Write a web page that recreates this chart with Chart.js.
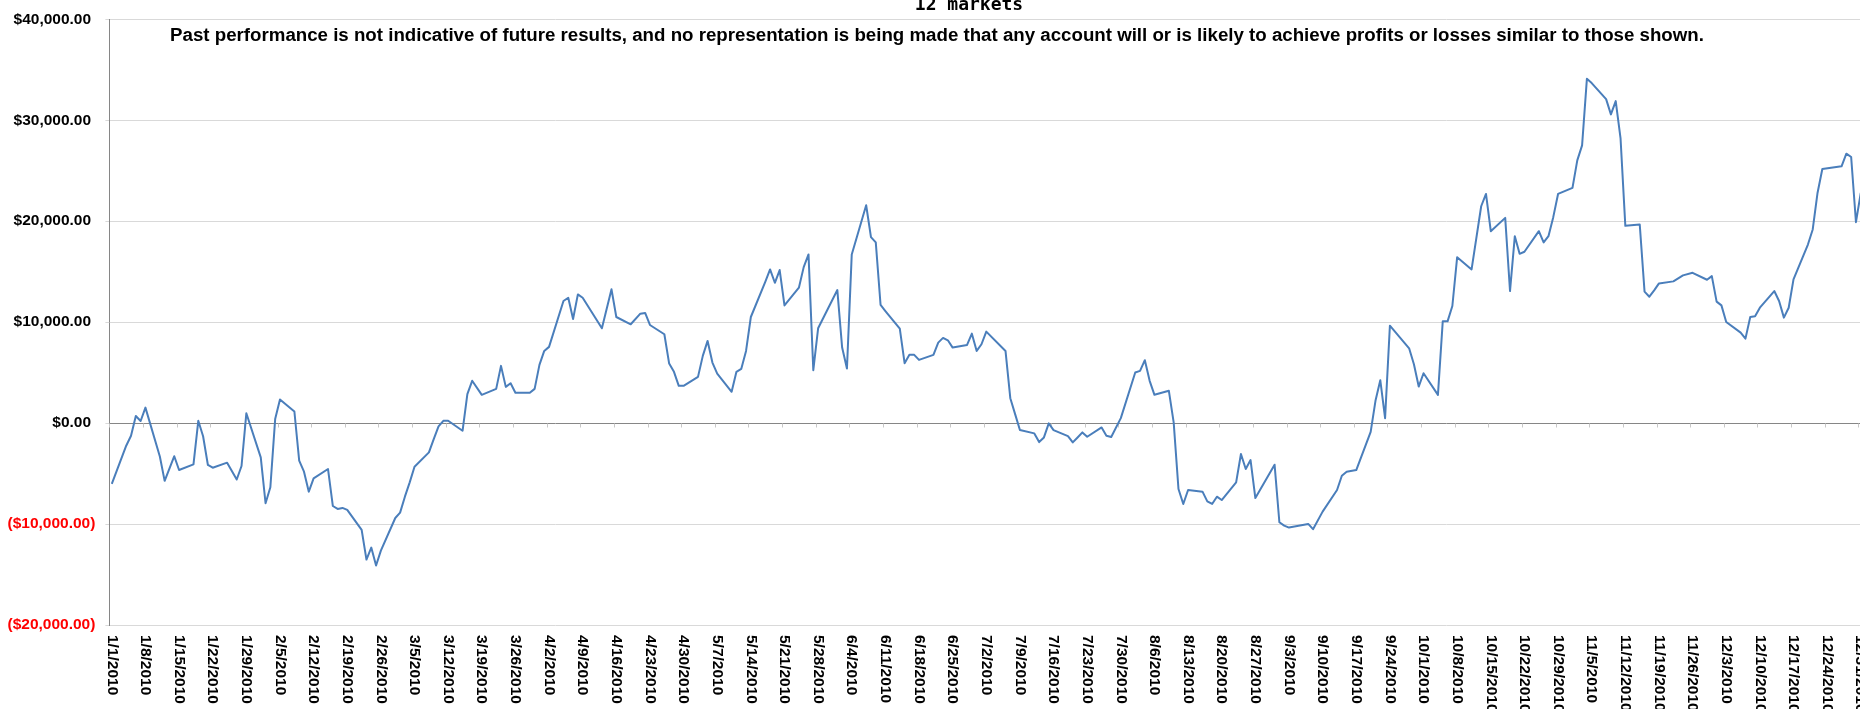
<!DOCTYPE html>
<html>
<head>
<meta charset="utf-8">
<title>12 markets</title>
<script src="https://cdn.jsdelivr.net/npm/chart.js@4.4.1/dist/chart.umd.min.js"></script>
<style>
    html, body { margin: 0; padding: 0; background: #fff; overflow: hidden; }
    #wrap { position: relative; width: 1892px; height: 709px; }
</style>
</head>
<body>
<div id="wrap"><canvas id="equityChart"></canvas></div>
<script>
const chartTitle = "12 markets";
const disclaimer = "Past performance is not indicative of future results, and no representation is being made that any account will or is likely to achieve profits or losses similar to those shown.";

// one label per week, Excel puts them under the weekly tick marks
const weekLabels = [
    "1/1/2010", "1/8/2010", "1/15/2010", "1/22/2010", "1/29/2010",
    "2/5/2010", "2/12/2010", "2/19/2010", "2/26/2010",
    "3/5/2010", "3/12/2010", "3/19/2010", "3/26/2010",
    "4/2/2010", "4/9/2010", "4/16/2010", "4/23/2010", "4/30/2010",
    "5/7/2010", "5/14/2010", "5/21/2010", "5/28/2010",
    "6/4/2010", "6/11/2010", "6/18/2010", "6/25/2010",
    "7/2/2010", "7/9/2010", "7/16/2010", "7/23/2010", "7/30/2010",
    "8/6/2010", "8/13/2010", "8/20/2010", "8/27/2010",
    "9/3/2010", "9/10/2010", "9/17/2010", "9/24/2010",
    "10/1/2010", "10/8/2010", "10/15/2010", "10/22/2010", "10/29/2010",
    "11/5/2010", "11/12/2010", "11/19/2010", "11/26/2010",
    "12/3/2010", "12/10/2010", "12/17/2010", "12/24/2010", "12/31/2010"
];

// days since 1/1/2010 (trading days where the curve turns)
const tradeDay = [
    0, 3, 4, 5, 6, 7, 10, 11, 13, 14, 17, 18, 19, 20, 21, 24, 26, 27, 28,                 // jan
    31, 32, 33, 34, 35, 38, 39, 40, 41, 42, 45, 46, 47, 48, 49, 52, 53, 54, 55, 56,         // feb
    59, 60, 61, 62, 63, 66, 67, 68, 69, 70, 73, 74, 75, 77, 80, 81, 82, 83, 84, 87, 88, 89, // mar
    90, 91, 94, 95, 96, 97, 98, 102, 104, 105, 108, 110, 111, 112, 115, 116, 117, 118, 119, // apr
    122, 123, 124, 125, 126, 129, 130, 131, 132, 133, 136, 137, 138, 139, 140, 143, 144, 145, 146, 147, // may
    151, 152, 153, 154, 157, 158, 159, 160, 161, 164, 165, 166, 167, 168, 171, 172, 173, 174, 175, 178, 179, 180, // jun
    181, 182, 186, 187, 188, 189, 192, 193, 194, 195, 196, 199, 200, 201, 202, 203, 206, 207, 208, 210, // jul
    213, 214, 215, 216, 217, 220, 221, 222, 223, 224, 227, 228, 229, 230, 231, 234, 235, 236, 237, 238, 242, // aug
    243, 244, 245, 249, 250, 252, 255, 256, 257, 259, 262, 263, 264, 265, 266, 270, 271, 272, // sep
    273, 276, 277, 278, 279, 280, 283, 285, 286, 287, 290, 291, 292, 293, 294, 297, 298, 299, 300, 301, // oct
    304, 305, 306, 307, 308, 311, 312, 313, 314, 315, 318, 319, 320, 321, 322, 325, 326, 327, 329, 332, 333, // nov
    334, 335, 336, 339, 340, 341, 342, 343, 346, 347, 348, 349, 350, 353, 354, 355, 356, 360, 361, 362, 363, 364 // dec
];

// cumulative P&L in $
const pnl = [
    -6030, -2240, -1250, 700, 210, 1530, -3310, -5720, -3280, -4650, -4090, 230, -1300, -4150, -4420, -3920, -5590, -4250, 970,
    -3390, -7940, -6360, 400, 2340, 1150, -3720, -4810, -6790, -5470, -4550, -8210, -8500, -8400, -8600, -10580, -13520, -12330, -14110, -12630,
    -9400, -8870, -7290, -5870, -4320, -2900, -1580, -330, 230, 230, -760, 2870, 4190, 2800, 3390, 5670, 3590, 3950, 3000, 3000, 3390, 5770,
    7150, 7550, 12090, 12420, 10310, 12750, 12420, 9390, 13250, 10510, 9790, 10840, 10910, 9720, 8800, 5900, 5080, 3690, 3690,
    4580, 6660, 8140, 6000, 4910, 3100, 5080, 5370, 7150, 10510, 14000, 15220, 13900, 15160, 11660, 13410, 15450, 16710, 5240, 9390,
    13180, 7480, 5400, 16710, 21580, 18420, 17900, 11700, 11100, 9360, 5930, 6760, 6760, 6260, 6760, 7970, 8440, 8200, 7480, 7740, 8860, 7150,
    7810, 9060, 7150, 2470, 890, -690, -1020, -1880, -1420, -30, -690, -1290, -1910, -1420, -920, -1350, -430, -1250, -1380, 490,
    5010, 5170, 6230, 4190, 2800, 3200, 70, -6530, -8010, -6630, -6790, -7750, -8010, -7290, -7620, -5870, -3060, -4550, -3660, -7420, -4120,
    -9820, -10150, -10350, -9990, -10510, -8770, -6630, -5210, -4810, -4650, -860, 2210, 4250, 490, 9650, 7410, 5830, 3620,
    4940, 2800, 10080, 10080, 11600, 16440, 15220, 21480, 22700, 19010, 20330, 13080, 18520, 16770, 16970, 19010, 17900, 18520, 20400, 22700,
    23300, 26030, 27510, 34100, 33680, 32090, 30580, 31900, 28240, 19540, 19670, 13020, 12520, 13150, 13840, 14040, 14330, 14630, 14890, 14200, 14560,
    12030, 11660, 10020, 8960, 8370, 10510, 10580, 11430, 13080, 12090, 10450, 11430, 14230, 17690, 19180, 22800, 25170, 25440, 26690, 26360, 19900, 22800
];

const yMin = -20000;
const yMax = 40000;
const yStep = 10000;

const ARIAL = '"Liberation Sans", Arial, sans-serif';

function money(v) {
    const s = "$" + Math.abs(v).toLocaleString("en-US", { minimumFractionDigits: 2, maximumFractionDigits: 2 });
    return v < 0 ? "(" + s + ")" : s + " ";
}

// weekly tick marks on the zero line + rotated date labels + the two titles
const excelBits = {
    id: "excelBits",
    beforeDatasetsDraw(chart) {
        const { ctx, scales: { x, y } } = chart;
        const zeroY = Math.round(y.getPixelForValue(0)) + 0.5;
        ctx.save();
        ctx.strokeStyle = "#c8c8c8";
        ctx.lineWidth = 1;
        x.ticks.forEach(t => {
            const px = Math.round(x.getPixelForValue(t.value)) + 0.5;
            ctx.beginPath();
            ctx.moveTo(px, zeroY);
            ctx.lineTo(px, zeroY + 4);
            ctx.stroke();
        });
        ctx.restore();
    },
    afterDraw(chart) {
        const { ctx, chartArea, scales: { x } } = chart;
        ctx.save();
        ctx.fillStyle = "#000";
        ctx.font = "bold 15.5px " + ARIAL;
        ctx.textAlign = "left";
        ctx.textBaseline = "middle";
        weekLabels.forEach((lab, i) => {
            const px = x.getPixelForValue(i * 7);
            ctx.save();
            ctx.translate(px, chartArea.bottom + 10);
            ctx.rotate(Math.PI / 2);
            ctx.fillText(lab, 0, 0);
            ctx.restore();
        });

        ctx.textAlign = "center";
        ctx.textBaseline = "alphabetic";
        ctx.font = 'bold 18px "DejaVu Sans Mono", monospace';
        ctx.fillText(chartTitle, 969, 10);
        ctx.font = "bold 18.7px " + ARIAL;
        ctx.fillText(disclaimer, 937, 41);
        ctx.restore();
    }
};

document.addEventListener("DOMContentLoaded", function () {
    const points = tradeDay.map((d, i) => ({ x: d, y: pnl[i] }));
    const ctx = document.getElementById("equityChart").getContext("2d");
    new Chart(ctx, {
        type: "line",
        data: {
            datasets: [{
                label: chartTitle,
                data: points,
                borderColor: "#4a7ebb",
                borderWidth: 2,
                borderJoinStyle: "round",
                fill: false,
                tension: 0,
                pointRadius: 0
            }]
        },
        options: {
            animation: false,
            responsive: true,
            maintainAspectRatio: false,
            layout: { padding: { top: 17.5, bottom: 84, left: 0, right: 0 } },
            scales: {
                x: {
                    type: "linear",
                    min: -0.5,
                    max: 370.5,
                    afterBuildTicks: scale => {
                        scale.ticks = weekLabels.map((_, i) => ({ value: i * 7 - 0.5 }));
                    },
                    ticks: { display: false },
                    grid: { display: false, drawTicks: false },
                    border: { display: false }
                },
                y: {
                    min: yMin,
                    max: yMax,
                    afterFit: scale => { scale.width = 109.4; },
                    ticks: {
                        stepSize: yStep,
                        padding: 10,
                        font: { family: ARIAL, size: 15.5, weight: "bold" },
                        color: c => (c.tick.value < 0 ? "#ff0000" : "#000000"),
                        callback: v => money(v)
                    },
                    grid: {
                        color: c => (c.tick.value === 0 ? "#868686" : "#d9d9d9"),
                        tickColor: "#d9d9d9",
                        tickLength: 4,
                        lineWidth: 1
                    },
                    border: { display: true, color: "#868686", width: 1 }
                }
            },
            plugins: {
                legend: { display: false },
                title: { display: false },
                tooltip: { enabled: false }
            }
        },
        plugins: [excelBits]
    });
});
</script>
</body>
</html>
